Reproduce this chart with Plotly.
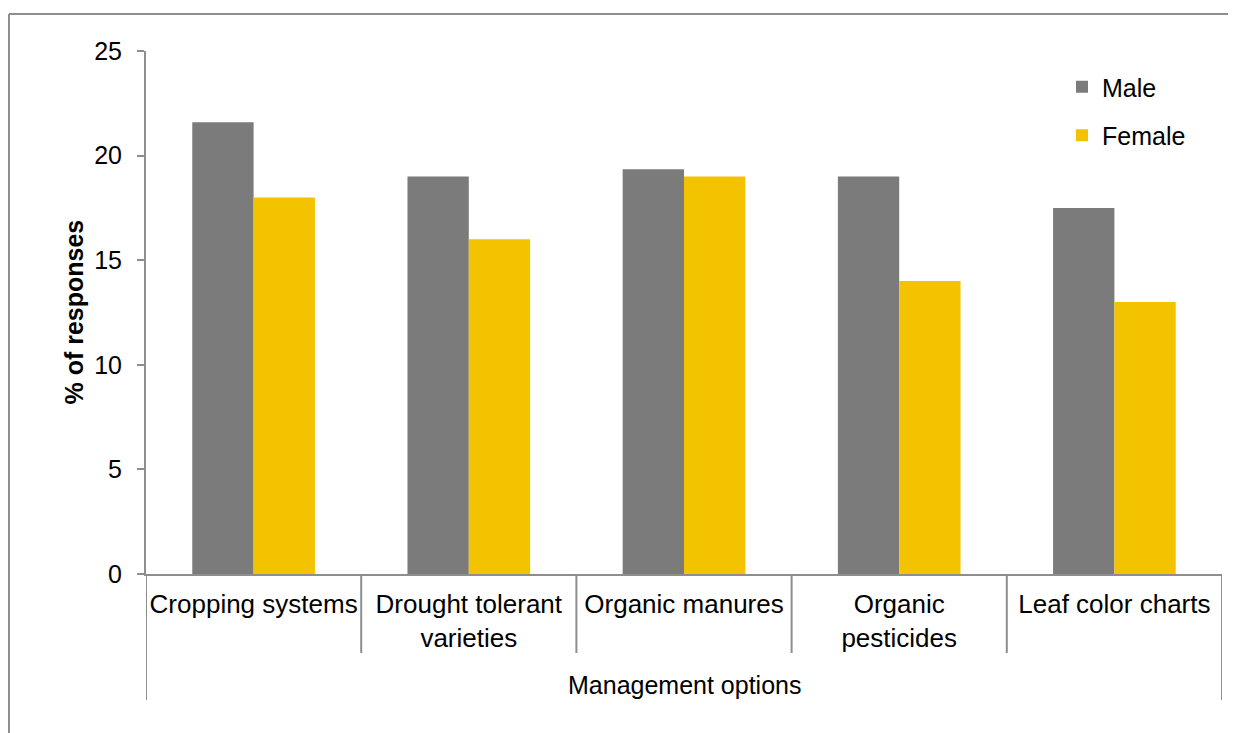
import plotly.graph_objects as go

categories = ["Cropping systems", "Drought tolerant<br>varieties", "Organic manures",
              "Organic<br>pesticides", "Leaf color charts"]
male = [21.6, 19.0, 19.35, 19.0, 17.5]
female = [18.0, 16.0, 19.0, 14.0, 13.0]
y_ticks = [0, 5, 10, 15, 20, 25]

GRAY = "#7b7b7b"
YELLOW = "#f3c300"
LINE = "#8e8e8e"
FONT = "Arial, Liberation Sans, sans-serif"

OFF = 8  # page body margin
W, H = 1236 - OFF, 733 - OFF
L, R, T, B = 146 - OFF, 14, 51 - OFF, 159
pw, ph = W - L - R, H - T - B

fig = go.Figure()
fig.add_trace(go.Bar(x=list(range(len(categories))), y=male, name="Male",
                     marker=dict(color=GRAY, line=dict(width=0)), legendgroup="m"))
fig.add_trace(go.Bar(x=list(range(len(categories))), y=female, name="Female",
                     marker=dict(color=YELLOW, line=dict(width=0)), legendgroup="f"))

shapes = []
n = len(categories)
for i in range(n + 1):
    outer = i == 0 or i == n
    shapes.append(dict(type="line", xref="x", yref="paper",
                       x0=i - 0.5, x1=i - 0.5, y0=0,
                       y1=-(126 / ph) if outer else -(79 / ph),
                       line=dict(color=LINE, width=2)))
# outer frame: left and top edges visible
bx = (9 - OFF - L) / pw
by = 1 + (T - (14 - OFF)) / ph
shapes.append(dict(type="line", xref="paper", yref="paper",
                   x0=bx, x1=bx, y0=by, y1=-(H + 20 - T - ph) / ph,
                   line=dict(color=LINE, width=2)))
shapes.append(dict(type="line", xref="paper", yref="paper",
                   x0=bx, x1=(W + 20 - L) / pw, y0=by, y1=by,
                   line=dict(color=LINE, width=2)))

annotations = [
    dict(text="Management options", xref="paper", yref="paper", x=0.5,
         y=-(111 / ph), xanchor="center", yanchor="middle", showarrow=False,
         font=dict(family=FONT, size=25, color="black")),
    dict(text="<b>% of responses</b>", xref="paper", yref="paper",
         x=(73 - 146) / pw, y=0.5, xanchor="center", yanchor="middle",
         textangle=-90, showarrow=False,
         font=dict(family=FONT, size=25, color="black")),
]

fig.update_layout(
    width=W, height=H,
    margin=dict(l=L, r=R, t=T, b=B, autoexpand=False),
    paper_bgcolor="white", plot_bgcolor="white",
    barmode="group", bargap=0.43, bargroupgap=0,
    font=dict(family=FONT, size=25, color="black"),
    shapes=shapes, annotations=annotations,
    legend=dict(x=(1062 - 146) / pw, y=1 - (13 / ph), xanchor="left", yanchor="top",
                font=dict(family=FONT, size=25, color="black"),
                tracegroupgap=13, bgcolor="rgba(0,0,0,0)", itemwidth=30),
    xaxis=dict(tickmode="array", tickvals=list(range(n)), ticktext=categories,
               range=[-0.5, n - 0.5], showline=True, linecolor=LINE, linewidth=2,
               ticks="", showgrid=False, zeroline=False, ticklabelstandoff=6,
               tickfont=dict(family=FONT, size=26, color="black")),
    yaxis=dict(range=[0, 25], tickmode="array", tickvals=y_ticks,
               showline=True, linecolor=LINE, linewidth=2,
               ticks="outside", ticklen=7, tickwidth=2, tickcolor=LINE,
               showgrid=False, zeroline=False, ticklabelstandoff=10,
               tickfont=dict(family=FONT, size=25, color="black")),
)

fig.write_html("out.html")
